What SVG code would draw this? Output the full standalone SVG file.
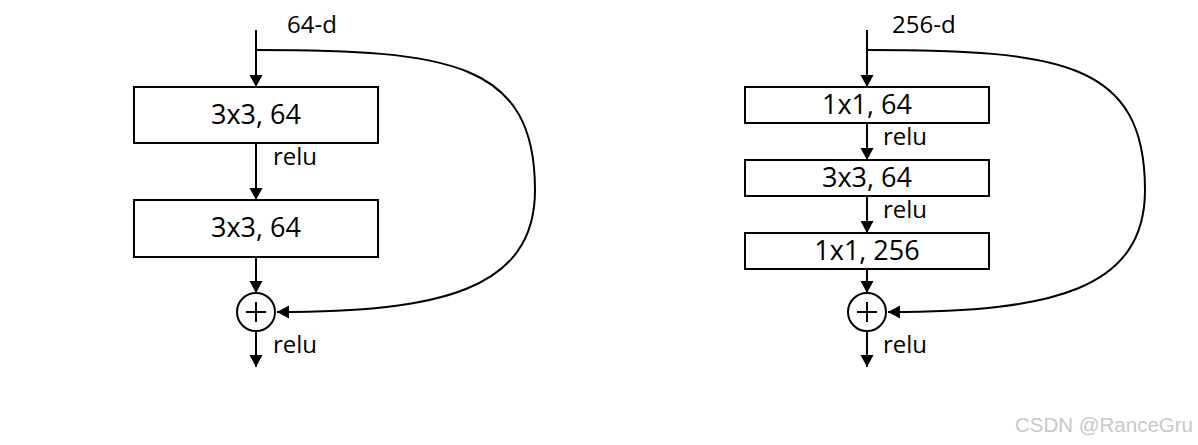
<svg xmlns="http://www.w3.org/2000/svg" width="1198" height="445" viewBox="0 0 1198 445">
<style>
.box{fill:#fff;stroke:#000;stroke-width:2}
.ln{fill:none;stroke:#000;stroke-width:2}
.bt{font-family:"Open Sans","Noto Sans",sans-serif;font-size:27px;fill:#000;text-anchor:middle}
.lb{font-family:"Open Sans","Noto Sans",sans-serif;font-size:24px;fill:#000}
.wm{font-family:"Liberation Sans",Arial,sans-serif;font-size:20.5px;fill:#c8c8c8;text-anchor:end}
</style>
<defs>
<marker id="ah" markerUnits="userSpaceOnUse" markerWidth="14" markerHeight="14" refX="12" refY="6.5" orient="auto">
<path d="M0,0 L12,6.5 L0,13 Z" fill="#000"/>
</marker>
</defs>
<rect width="1198" height="445" fill="#fff"/>
<g id="connectors">
<line class="ln" x1="256" y1="30" x2="256" y2="87" marker-end="url(#ah)"/>
<line class="ln" x1="256" y1="143" x2="256" y2="200" marker-end="url(#ah)"/>
<line class="ln" x1="256" y1="257" x2="256" y2="293" marker-end="url(#ah)"/>
<line class="ln" x1="256" y1="331" x2="256" y2="367" marker-end="url(#ah)"/>
<path class="ln" d="M256,50 C450,50 535,62 535,190 C535,290 440,312 277,312" marker-end="url(#ah)"/>
<line class="ln" x1="867" y1="30" x2="867" y2="87" marker-end="url(#ah)"/>
<line class="ln" x1="867" y1="123" x2="867" y2="160" marker-end="url(#ah)"/>
<line class="ln" x1="867" y1="196" x2="867" y2="233" marker-end="url(#ah)"/>
<line class="ln" x1="867" y1="269" x2="867" y2="293" marker-end="url(#ah)"/>
<line class="ln" x1="867" y1="331" x2="867" y2="367" marker-end="url(#ah)"/>
<path class="ln" d="M867,50 C1061,50 1145,62 1145,190 C1145,290 1051,312 888,312" marker-end="url(#ah)"/>
</g>
<g id="left-input"><text class="lb" x="287" y="33">64-d</text></g>
<g id="left-conv1"><rect class="box" x="134" y="87" width="244" height="56"/><text class="bt" x="256" y="124">3x3, 64</text></g>
<g id="left-relu1"><text class="lb" x="273" y="165">relu</text></g>
<g id="left-conv2"><rect class="box" x="134" y="200" width="244" height="57"/><text class="bt" x="256" y="237">3x3, 64</text></g>
<g id="left-add"><circle class="ln" cx="256" cy="312" r="19"/><path class="ln" d="M246,312 H266 M256,302 V322"/></g>
<g id="left-relu2"><text class="lb" x="273" y="353">relu</text></g>
<g id="right-input"><text class="lb" x="892" y="33">256-d</text></g>
<g id="right-conv1"><rect class="box" x="745" y="87" width="244" height="36"/><text class="bt" x="867" y="114">1x1, 64</text></g>
<g id="right-relu1"><text class="lb" x="883" y="145">relu</text></g>
<g id="right-conv2"><rect class="box" x="745" y="160" width="244" height="36"/><text class="bt" x="867" y="187">3x3, 64</text></g>
<g id="right-relu2"><text class="lb" x="883" y="218">relu</text></g>
<g id="right-conv3"><rect class="box" x="745" y="233" width="244" height="36"/><text class="bt" x="867" y="260">1x1, 256</text></g>
<g id="right-add"><circle class="ln" cx="867" cy="312" r="19"/><path class="ln" d="M857,312 H877 M867,302 V322"/></g>
<g id="right-relu3"><text class="lb" x="883" y="353">relu</text></g>
<text class="wm" x="1193" y="432">CSDN @RanceGru</text>
</svg>
